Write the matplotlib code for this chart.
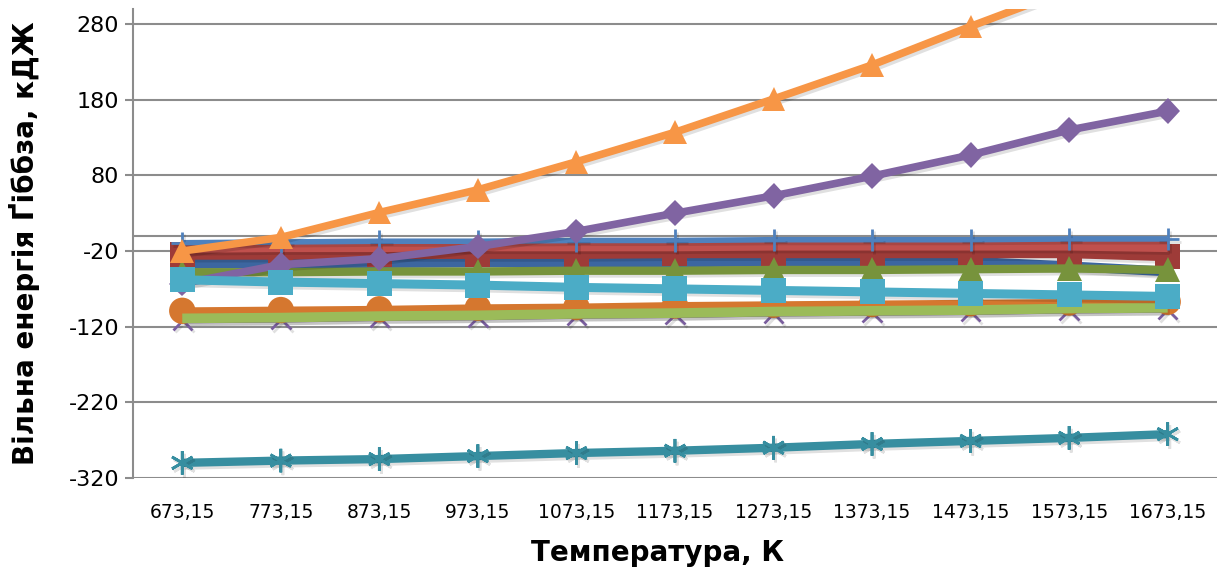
import matplotlib
matplotlib.use('Agg')
import matplotlib.pyplot as plt
import matplotlib.patheffects as pe
from matplotlib import font_manager

# Temperatures (category labels)
temps = ['673,15', '773,15', '873,15', '973,15', '1073,15', '1173,15',
         '1273,15', '1373,15', '1473,15', '1573,15', '1673,15']

# Gibbs free energy of each reaction, kJ
g_purple_x = [-111, -110, -108, -107, -105, -104, -102, -101, -100, -98, -97]
g_orange_circ = [-99, -98, -97, -95, -94, -92, -91, -90, -89, -88, -87]
g_lgreen = [-109, -108, -106, -105, -103, -102, -100, -99, -98, -96, -95]
g_dblue = [-37, -36, -36, -35, -35, -35, -34, -34, -34, -40, -47]
g_dred = [-25, -25, -24, -24, -24, -23, -23, -23, -23, -23, -27]
g_red = [-15, -14, -14, -13, -13, -13, -12, -12, -12, -12, -14]
g_blue = [-9, -8, -7, -7, -6, -6, -5, -5, -5, -4, -4]
g_olive = [-48, -48, -47, -47, -46, -46, -45, -45, -44, -43, -45]
g_purple_d = [-63, -38, -30, -14, 6, 30, 53, 79, 107, 140, 165]
g_cyan = [-58, -61, -63, -65, -68, -70, -72, -74, -76, -78, -80]
g_orange_tri = [-20, -2, 31, 61, 98, 137, 181, 226, 277, 326, 378]
g_teal = [-300, -297, -295, -291, -287, -284, -280, -275, -271, -267, -262]

# pick a narrow font if there is one
names = {f.name for f in font_manager.fontManager.ttflist}
fam = 'DejaVu Sans'
for cand in ['DejaVu Sans Condensed', 'Liberation Sans Narrow']:
    if cand in names:
        fam = cand
        break
plt.rcParams['font.family'] = [fam, 'DejaVu Sans']
plt.rcParams['axes.unicode_minus'] = False

fig = plt.figure(figsize=(12.28, 5.73), dpi=100)
ax = fig.add_axes([0.1083, 0.1658, 0.8827, 0.8185])

x = range(len(temps))
shadow = [pe.SimpleLineShadow(offset=(1.5, -2), alpha=0.12, shadow_color='k'), pe.Normal()]

series = [
    (g_purple_x, '#7A5E9E', 'x', 14, 5),
    (g_orange_circ, '#D5772F', 'o', 19, 5),
    (g_lgreen, '#9BBB59', None, 0, 7),
    (g_dblue, '#3C66A0', None, 0, 7),
    (g_dred, '#9E3B38', 's', 18, 7),
    (g_red, '#C0504D', None, 0, 8),
    (g_blue, '#4F81BD', '+', 16, 4),
    (g_olive, '#77933C', '^', 18, 6),
    (g_purple_d, '#8064A2', 'D', 13, 5.5),
    (g_cyan, '#4BACC6', 's', 18, 6.5),
    (g_orange_tri, '#F79646', '^', 17, 5.5),
    (g_teal, '#378EA0', (6, 2, 0), 17, 6),
]
for vals, col, mk, ms, lw in series:
    ax.plot(x, vals, color=col, lw=lw, marker=mk, markersize=ms,
            markeredgewidth=2 if mk in ('x', '+', (6, 2, 0)) else 0,
            markeredgecolor=col, markerfacecolor=col,
            solid_capstyle='butt', path_effects=shadow, zorder=3)

ax.set_xlim(-0.5, len(temps) - 0.5)
ax.set_ylim(-320, 300)
ax.set_yticks(range(-320, 281, 100))
ax.set_xticks(list(x))
ax.set_xticklabels(temps, fontsize=13.5)
ax.tick_params(axis='y', labelsize=16, length=6, width=1.5, color='#8C8C8C', pad=4)
ax.tick_params(axis='x', length=0, pad=18)

ax.grid(axis='y', color='#8C8C8C', lw=1.5, zorder=1)
ax.axhline(0, color='#8C8C8C', lw=1.5, zorder=1)
for s in ['top', 'right', 'bottom']:
    ax.spines[s].set_visible(False)
ax.spines['left'].set_color('#8C8C8C')
ax.spines['left'].set_linewidth(1.5)

ax.set_xlabel('Температура, К', fontsize=20, fontweight='bold')
ax.xaxis.set_label_coords(0.484, -0.13)
ax.set_ylabel('Вільна енергія Ґіббза, кДЖ', fontsize=20, fontweight='bold')
ax.yaxis.set_label_coords(-0.086, 0.5)

fig.savefig('out.png', dpi=100)
